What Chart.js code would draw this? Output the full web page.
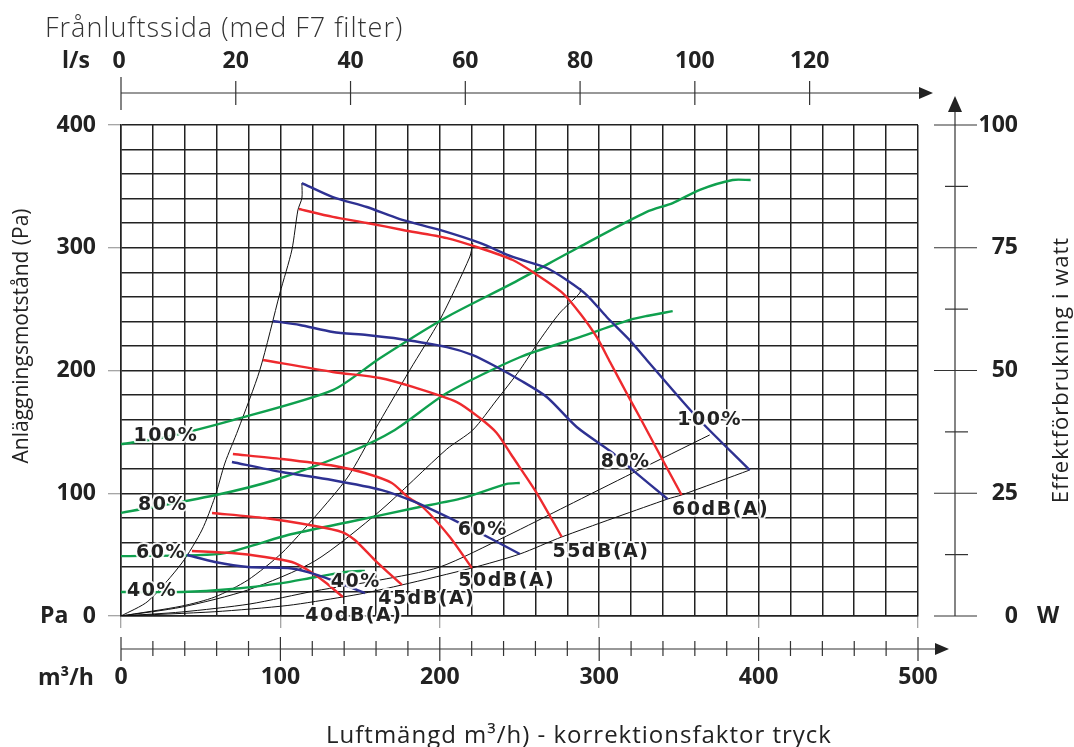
<!DOCTYPE html>
<html>
<head>
<meta charset="utf-8">
<title>Frånluftssida (med F7 filter)</title>
<script src="https://cdn.jsdelivr.net/npm/chart.js@4.4.1/dist/chart.umd.min.js"></script>
<style>
  html, body { margin: 0; padding: 0; background: #fff; }
  #wrap { width: 1074px; height: 747px; }
</style>
</head>
<body>
<div id="wrap"><canvas id="fanChart" width="1074" height="747"></canvas></div>
<script>
// axis ticks
const flowTicks = [0, 100, 200, 300, 400, 500];      // m³/h
const paTicks = [0, 100, 200, 300, 400];             // Pa
const lsTicks = [0, 20, 40, 60, 80, 100, 120];       // l/s
const wattTicks = [0, 25, 50, 75, 100];              // W
const wattMinor = [12.5, 37.5, 62.5, 87.5];

// fan curves, blue (m³/h, Pa)
const fan100 = [[113.5,352.7],[132.9,341.3],[154.2,333.2],[174.9,323.4],[200.0,314.5],[225.1,303.9],[245.8,292.5],[267.1,283.5],[279.6,273.7],[292.2,261.5],[304.7,243.6],[319.1,224.8],[329.8,208.6],[361.1,162.1],[394.4,118.9]];
const fan80 = [[95.3,240.3],[112.2,237.1],[132.9,231.4],[154.2,228.9],[174.9,225.7],[204.4,219.1],[220.7,212.6],[235.7,202.9],[250.2,192.3],[267.1,178.4],[285.9,154.0],[308.5,132.8],[321.0,118.9],[342.9,95.3]];
const fan60 = [[69.6,125.5],[100.9,117.3],[132.3,110.8],[163.6,102.6],[184.3,92.9],[212.5,75.8],[231.3,63.5],[250.2,50.5]];
const fan40 = [[41.4,49.7],[58.9,44.0],[79.6,39.9],[104.7,39.1],[117.2,35.8],[132.3,29.3],[153.0,18.7]];

// sound level curves, red (m³/h, Pa)
const db60 = [[111.6,331.6],[132.9,325.1],[154.2,320.2],[176.8,314.5],[204.4,307.9],[225.1,299.8],[245.8,290.0],[258.3,280.2],[277.1,263.1],[287.8,246.8],[298.4,227.3],[306.8,206.9],[319.1,177.0],[325.4,162.1],[339.8,127.1],[351.7,98.6]];
const db55 = [[89.0,208.6],[132.9,198.8],[162.4,193.9],[183.1,186.6],[210.7,174.3],[225.1,161.3],[235.7,149.1],[245.8,129.5],[260.8,100.2],[276.5,64.4]];
const db50 = [[70.2,132.0],[100.9,127.9],[134.2,122.2],[153.0,116.5],[169.9,108.4],[179.9,96.9],[189.3,88.8],[206.3,64.4],[220.1,39.1]];
const db45 = [[57.1,83.9],[90.3,79.8],[121.6,73.3],[138.6,68.4],[146.7,61.9],[159.2,45.6],[176.2,25.3]];
const db40 = [[44.5,53.0],[69.6,51.3],[90.3,48.1],[107.2,44.0],[117.2,37.5],[127.9,27.7],[139.2,15.5]];

// power consumption, green (m³/h, W)
const pow100 = [[0,35.0],[28.8,36.5],[70.2,39.9],[132.9,46.0],[162.4,52.5],[204.4,60.9],[245.8,67.8],[287.8,75.2],[329.8,82.3],[346.1,84.1],[363.1,86.8],[383.7,88.8],[395.0,88.8]];
const pow80 = [[0,21.0],[58.9,24.6],[96.6,27.7],[142.3,33.2],[171.8,37.9],[204.4,45.4],[250.2,52.7],[287.8,56.8],[319.1,60.3],[329.8,61.1],[346.1,62.1]];
const pow60 = [[0,12.2],[48.3,12.4],[65.2,12.8],[84.0,14.5],[104.7,16.5],[142.3,19.1],[184.3,22.0],[214.4,24.0],[242.0,26.9],[250.2,27.1]];
const pow40 = [[0,4.9],[38.2,4.9],[69.6,5.5],[100.9,6.7],[121.6,7.9],[142.3,9.0],[153.0,9.2]];

// system curves, black (m³/h, Pa)
const sysA = [[0,0],[16.9,12.0],[38.2,43.2],[50.8,70.1],[58.9,96.9],[65.2,124.6],[73.4,151.5],[87.1,200.4],[99.7,263.1],[107.2,298.2],[111.0,330.8],[113.5,340.5],[113.5,352.7]];
const sysB = [[0,0],[38.2,8.1],[58.9,15.5],[79.6,29.3],[100.9,51.3],[121.6,80.7],[142.3,113.2],[159.2,151.5],[181.2,200.4],[200.0,241.1],[218.8,292.5],[220.7,303.9]];
const sysC = [[0,0],[38.2,7.3],[79.6,21.2],[121.6,44.8],[162.4,85.5],[204.4,136.0],[220.7,151.5],[235.7,176.0],[250.2,200.4],[262.7,224.8],[275.2,246.8],[287.8,263.1],[288.4,267.2]];
const sysD = [[0,0],[38.2,3.3],[80.9,9.8],[121.6,20.4],[162.4,29.3],[200.0,39.9],[242.0,65.2],[279.6,89.6],[321.0,116.5],[369.3,147.5]];
const sysE = [[0,0],[58.9,3.5],[104.7,8.6],[139.2,15.5],[153.0,18.7],[176.2,25.3],[220.1,39.1],[250.2,50.5],[276.5,64.4],[342.9,95.3],[351.7,98.6],[394.4,118.9]];

// curve labels (placed in m³/h, Pa)
const curveLabels = [
    { text: '100%', x: 28.2, y: 146.6 },
    { text: '80%', x: 26.3, y: 90.4 },
    { text: '60%', x: 25.1, y: 51.3 },
    { text: '40%', x: 19.4, y: 20.4 },
    { text: '40%', x: 147.3, y: 27.7 },
    { text: '60%', x: 227.0, y: 70.1 },
    { text: '80%', x: 316.6, y: 125.5 },
    { text: '100%', x: 369.3, y: 159.7 },
    { text: '60dB(A)', x: 376.2, y: 86.4 },
    { text: '55dB(A)', x: 301.1, y: 52.1 },
    { text: '50dB(A)', x: 242.0, y: 28.5 },
    { text: '45dB(A)', x: 191.8, y: 13.8 },
    { text: '40dB(A)', x: 146.1, y: 0 }
];

const BLUE = '#2e3192';
const RED = '#ee2a2e';
const GREEN = '#0fa04e';
const INK = '#222';
const tickFont = { family: 'Open Sans', size: 23, weight: '700' };

function pts(arr) {
    return arr.map(function(p) { return { x: p[0], y: p[1] }; });
}

function curve(arr, color, width, axis) {
    return {
        data: pts(arr),
        borderColor: color,
        borderWidth: width,
        showLine: true,
        pointRadius: 0,
        tension: 0.25,
        yAxisID: axis || 'y'
    };
}

const datasets = [
    curve(fan100, BLUE, 2.4), curve(fan80, BLUE, 2.4), curve(fan60, BLUE, 2.4), curve(fan40, BLUE, 2.4),
    curve(db60, RED, 2.4), curve(db55, RED, 2.4), curve(db50, RED, 2.4), curve(db45, RED, 2.4), curve(db40, RED, 2.4),
    curve(pow100, GREEN, 2.4, 'y2'), curve(pow80, GREEN, 2.4, 'y2'), curve(pow60, GREEN, 2.4, 'y2'), curve(pow40, GREEN, 2.4, 'y2'),
    curve(sysA, '#111', 1), curve(sysB, '#111', 1), curve(sysC, '#111', 1), curve(sysD, '#111', 1), curve(sysE, '#111', 1)
];

// Extra axes, titles and curve labels
const extras = {
    id: 'extras',
    afterDraw: function(chart) {
        const ctx = chart.ctx;
        const xs = chart.scales.x;
        const ys = chart.scales.y;
        const ws = chart.scales.y2;
        const area = chart.chartArea;
        const tf = '700 23px "Open Sans"';
        ctx.save();

        // title
        ctx.fillStyle = '#333';
        ctx.font = '300 27px "Open Sans"';
        ctx.letterSpacing = '1px';
        ctx.textAlign = 'left';
        ctx.textBaseline = 'alphabetic';
        ctx.fillText('Frånluftssida (med F7 filter)', 45, 37);
        ctx.letterSpacing = '0px';

        ctx.strokeStyle = '#333';
        ctx.fillStyle = INK;
        ctx.lineWidth = 1.2;

        // top l/s axis
        const topY = 93;
        ctx.beginPath();
        ctx.moveTo(area.left, topY);
        ctx.lineTo(921, topY);
        ctx.stroke();
        ctx.beginPath();
        ctx.moveTo(919, topY - 6); ctx.lineTo(933, topY); ctx.lineTo(919, topY + 6);
        ctx.closePath(); ctx.fill();
        ctx.font = tf;
        ctx.textBaseline = 'middle';
        lsTicks.forEach(function(v) {
            const px = xs.getPixelForValue(v * 3.6);
            ctx.beginPath();
            ctx.moveTo(px, v === 0 ? 77 : 81);
            ctx.lineTo(px, v === 0 ? 110 : 105);
            ctx.stroke();
            ctx.textAlign = 'center';
            ctx.fillText(String(v), v === 0 ? px - 2 : px, 61);
        });
        ctx.textAlign = 'left';
        ctx.fillText('l/s', 62, 61);

        // bottom m³/h axis
        const botY = 649;
        ctx.beginPath();
        ctx.moveTo(area.left, botY);
        ctx.lineTo(937, botY);
        ctx.stroke();
        ctx.beginPath();
        ctx.moveTo(935, botY - 6); ctx.lineTo(949, botY); ctx.lineTo(935, botY + 6);
        ctx.closePath(); ctx.fill();
        for (let v = 0; v <= 500; v += 20) {
            const px = xs.getPixelForValue(v);
            const major = flowTicks.indexOf(v) >= 0;
            ctx.beginPath();
            ctx.moveTo(px, major ? 637 : 641);
            ctx.lineTo(px, major ? 661 : 656);
            ctx.stroke();
        }
        ctx.textAlign = 'left';
        ctx.fillText('m³/h', 38, 678);
        ctx.fillText('Pa', 40, ys.getPixelForValue(0));

        // right W axis
        const rx = 955;
        ctx.beginPath();
        ctx.moveTo(rx, ws.getPixelForValue(0));
        ctx.lineTo(rx, 110);
        ctx.stroke();
        ctx.beginPath();
        ctx.moveTo(rx - 7, 112); ctx.lineTo(rx, 96); ctx.lineTo(rx + 7, 112);
        ctx.closePath(); ctx.fill();
        wattTicks.forEach(function(v) {
            const py = ws.getPixelForValue(v);
            ctx.beginPath();
            ctx.moveTo(934, py); ctx.lineTo(977, py);
            ctx.stroke();
            ctx.textAlign = 'right';
            ctx.fillText(String(v), 1018, py);
        });
        wattMinor.forEach(function(v) {
            const py = ws.getPixelForValue(v);
            ctx.beginPath();
            ctx.moveTo(945, py); ctx.lineTo(968, py);
            ctx.stroke();
        });
        ctx.textAlign = 'left';
        ctx.fillText('W', 1037, ws.getPixelForValue(0));

        // axis titles
        ctx.textAlign = 'center';
        ctx.font = '400 24px "Open Sans"';
        ctx.letterSpacing = '1px';
        ctx.fillText('Luftmängd m³/h) - korrektionsfaktor tryck', 579, 736);
        ctx.save();
        ctx.translate(1062, 370);
        ctx.rotate(-Math.PI / 2);
        ctx.font = '400 22px "Open Sans"';
        ctx.fillText('Effektförbrukning i watt', 0, 0);
        ctx.restore();
        ctx.letterSpacing = '0px';
        ctx.save();
        ctx.translate(22, 336);
        ctx.rotate(-Math.PI / 2);
        ctx.font = '400 21px "Open Sans"';
        ctx.fillText('Anläggningsmotstånd (Pa)', 0, 0);
        ctx.restore();

        // curve labels
        ctx.font = 'bold 19px "DejaVu Sans"';
        ctx.letterSpacing = '1.5px';
        ctx.lineJoin = 'round';
        curveLabels.forEach(function(l) {
            const px = xs.getPixelForValue(l.x);
            const py = ys.getPixelForValue(l.y);
            ctx.strokeStyle = 'rgba(255,255,255,0.9)';
            ctx.lineWidth = 4;
            ctx.strokeText(l.text, px, py);
            ctx.fillStyle = INK;
            ctx.fillText(l.text, px, py);
        });
        ctx.restore();
    }
};

const chart = new Chart(document.getElementById('fanChart').getContext('2d'), {
    type: 'scatter',
    data: { datasets: datasets },
    options: {
        responsive: false,
        animation: false,
        layout: { padding: { left: 0, right: 156, top: 125, bottom: 0 } },
        plugins: { legend: { display: false }, tooltip: { enabled: false } },
        scales: {
            x: {
                type: 'linear',
                min: 0,
                max: 500,
                ticks: {
                    stepSize: 20,
                    autoSkip: false,
                    maxRotation: 0,
                    padding: 36,
                    color: INK,
                    font: tickFont,
                    callback: function(v) { return flowTicks.indexOf(v) >= 0 ? String(v) : ''; }
                },
                grid: {
                    color: INK,
                    lineWidth: 1.5,
                    tickLength: 12,
                    tickWidth: 1,
                    tickColor: function(c) { return c.tick && flowTicks.indexOf(c.tick.value) >= 0 ? '#888' : 'rgba(0,0,0,0)'; }
                },
                border: { color: INK, width: 1.5 },
                afterFit: function(s) { s.height = 131; }
            },
            y: {
                type: 'linear',
                min: 0,
                max: 400,
                ticks: {
                    stepSize: 20,
                    autoSkip: false,
                    padding: 12,
                    color: INK,
                    font: tickFont,
                    callback: function(v) { return paTicks.indexOf(v) >= 0 ? String(v) : ''; }
                },
                grid: {
                    color: INK,
                    lineWidth: 1.5,
                    tickLength: 13,
                    tickWidth: 1,
                    tickColor: function(c) { return c.tick && paTicks.indexOf(c.tick.value) >= 0 ? '#888' : 'rgba(0,0,0,0)'; }
                },
                border: { color: INK, width: 1.5 },
                afterFit: function(s) { s.width = 121; }
            },
            y2: {
                type: 'linear',
                position: 'right',
                min: 0,
                max: 100,
                display: false
            }
        }
    },
    plugins: [extras]
});
</script>
</body>
</html>
